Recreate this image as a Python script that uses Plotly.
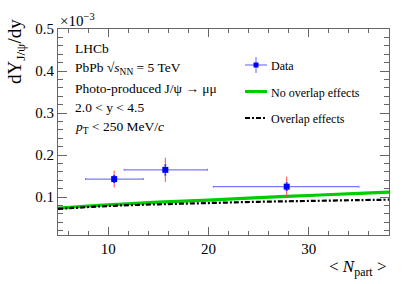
import plotly.graph_objects as go

# Data (y in units of 1e-3)
npart = [10.6, 15.7, 27.8]
npart_lo = [7.75, 11.6, 20.5]
npart_hi = [13.5, 19.9, 35.0]
yield_ = [0.143, 0.165, 0.125]
stat_err = [0.008, 0.012, 0.009]
tot_err = [0.020, 0.029, 0.024]

model_x = [5, 10, 15, 20, 25, 30, 35, 38]
no_overlap = [0.074, 0.082, 0.088, 0.093, 0.099, 0.104, 0.109, 0.112]
overlap = [0.072, 0.079, 0.083, 0.086, 0.089, 0.091, 0.093, 0.094]

info_lines = ["LHCb",
              "PbPb √<i>s</i><sub>NN</sub> = 5 TeV",
              "Photo-produced J/ψ → μμ",
              "2.0 < y < 4.5",
              "<i>p</i><sub>T</sub> < 250 MeV/<i>c</i>"]
legend_labels = ["Data", "No overlap effects", "Overlap effects"]

FONT = "Liberation Serif, Times New Roman, serif"
W, H = 415, 284
L, R, T, B = 58, 26, 29, 49

fig = go.Figure()
fig.add_trace(go.Scatter(x=model_x, y=no_overlap, mode="lines",
                         line=dict(color="#00cc00", width=3.2), line_shape="spline",
                         showlegend=False))
fig.add_trace(go.Scatter(x=model_x, y=overlap, mode="lines",
                         line=dict(color="black", width=2.2, dash="5px,2px,2px,2px"),
                         line_shape="spline", showlegend=False))
fig.add_trace(go.Scatter(x=npart, y=yield_, mode="markers",
                         marker=dict(size=1, color="rgba(0,0,0,0)"),
                         error_y=dict(type="data", array=tot_err, color="#ff4d4d",
                                      thickness=1, width=0),
                         showlegend=False))
fig.add_trace(go.Scatter(x=npart, y=yield_, mode="markers",
                         marker=dict(symbol="square", size=6, color="#0000ff"),
                         error_y=dict(type="data", array=stat_err, color="#3333ff",
                                      thickness=1.2, width=1),
                         error_x=dict(type="data",
                                      array=[h - c for h, c in zip(npart_hi, npart)],
                                      arrayminus=[c - l for c, l in zip(npart, npart_lo)],
                                      color="#7a7aff", thickness=1.2, width=1),
                         showlegend=False))

axis_common = dict(showline=True, linecolor="#666", linewidth=1.2, mirror="ticks",
                   ticks="inside", tickcolor="#666", showgrid=False, zeroline=False,
                   automargin=False,
                   tickfont=dict(family=FONT, size=15, color="black"))
fig.update_xaxes(range=[5, 38], dtick=10, tick0=0, ticklen=8,
                 minor=dict(dtick=2, tick0=0, ticklen=4, ticks="inside", tickcolor="#666"),
                 **axis_common)
fig.update_yaxes(range=[0.01, 0.5], dtick=0.1, tick0=0, ticklen=9,
                 tickformat=".1f",
                 minor=dict(dtick=0.02, tick0=0, ticklen=5, ticks="inside", tickcolor="#666"),
                 **axis_common)

def px(x):
    return (x - L) / (W - L - R)

def py_(y):
    return 1 - (y - T) / (H - T - B)

ann = []
ann.append(dict(text="dY<sub>J/ψ</sub>/dy", textangle=-90, xref="paper", yref="paper",
                x=px(16), y=py_(52),
                xanchor="center", yanchor="middle", showarrow=False,
                font=dict(family=FONT, size=19, color="black")))
ann.append(dict(text="×10<sup>−3</sup>", xref="paper", yref="paper", x=0, y=1,
                xanchor="left", yanchor="bottom", yshift=-2, showarrow=False,
                font=dict(family=FONT, size=15, color="black")))
ann.append(dict(text="&lt; <i>N</i><sub>part</sub> &gt;", xref="paper", yref="paper",
                x=1, y=py_(268), xanchor="right", yanchor="middle",
                showarrow=False, font=dict(family=FONT, size=17, color="black")))
info_y = [49, 68.5, 88, 107.5, 127]
for txt, yy in zip(info_lines, info_y):
    ann.append(dict(text=txt, xref="paper", yref="paper",
                    x=px(73), y=py_(yy),
                    xanchor="left", yanchor="middle", showarrow=False,
                    font=dict(family=FONT, size=13.5, color="black")))
leg_y = [66, 93, 119]
for txt, yy in zip(legend_labels, leg_y):
    ann.append(dict(text=txt, xref="paper", yref="paper",
                    x=px(269), y=py_(yy),
                    xanchor="left", yanchor="middle", showarrow=False,
                    font=dict(family=FONT, size=12, color="black")))

shapes = [
    dict(type="line", xref="paper", yref="paper", x0=px(245), x1=px(267), y0=py_(65), y1=py_(65),
         line=dict(color="#7a7aff", width=1.2)),
    dict(type="line", xref="paper", yref="paper", x0=px(256), x1=px(256), y0=py_(57), y1=py_(73),
         line=dict(color="#7a7aff", width=1.2)),
    dict(type="rect", xref="paper", yref="paper", x0=px(253.5), x1=px(258.5), y0=py_(62.5), y1=py_(67.5),
         line=dict(width=0), fillcolor="#0000ff"),
    dict(type="line", xref="paper", yref="paper", x0=px(245), x1=px(267), y0=py_(91.5), y1=py_(91.5),
         line=dict(color="#00cc00", width=3)),
    dict(type="line", xref="paper", yref="paper", x0=px(245), x1=px(267), y0=py_(118), y1=py_(118),
         line=dict(color="black", width=2, dash="5px,2px,2px,2px")),
]

fig.update_layout(width=W, height=H, margin=dict(l=L, r=R, t=T, b=B),
                  font=dict(family=FONT, color="black"),
                  plot_bgcolor="white", paper_bgcolor="white",
                  annotations=ann, shapes=shapes, showlegend=False)
fig.write_html("out.html", config={"displayModeBar": False},
               post_script="document.body.style.margin='0';document.body.style.overflow='hidden';")
